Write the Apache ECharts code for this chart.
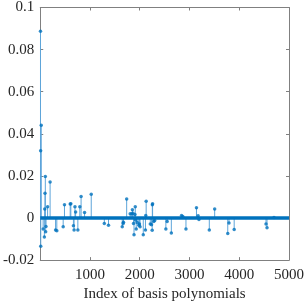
<!DOCTYPE html>
<html><head><meta charset="utf-8">
<script src="https://cdn.jsdelivr.net/npm/echarts@6/dist/echarts.min.js"></script>
<style>html,body{margin:0;padding:0;background:#fff}#c{width:307px;height:307px}</style>
</head><body><div id="c"></div>
<script>
var xLabel = 'Index of basis polynomials';
var xTicks = [0, 1000, 2000, 3000, 4000, 5000];
var yTicks = [-0.02, 0, 0.02, 0.04, 0.06, 0.08, 0.1];
var indices = [5,20,8,10,102,96,90,148,198,58,83,109,115,308,333,461,487,602,615,667,680,698,711,756,795,821,891,1025,1288,1372,1648,1667,1673,1737,1808,1840,1852,1865,1875,1885,1904,1910,1915,1929,1948,1981,1994,2006,2071,2121,2129,2115,2212,2237,2250,2253,2258,2282,2300,2525,2551,2635,2840,2866,2929,3140,3173,3190,3398,3506,3769,3794,3898,4538,4558,4698];
var coeffs = [0.0887,0.0441,0.0319,-0.0134,0.0197,0.0117,0.0043,0.0053,0.0171,-0.0052,-0.009,-0.0065,-0.004,-0.0057,-0.0061,-0.0042,0.0063,0.0066,0.0068,-0.0037,-0.0057,0.0054,0.0028,-0.0057,0.0054,0.0102,0.0026,0.0113,-0.0026,-0.0034,-0.0042,-0.0026,-0.002,0.009,0.002,0.002,0.0039,0.0023,-0.0026,-0.008,0.0017,0.0053,-0.001,-0.0052,-0.0021,-0.0035,-0.0029,-0.0042,-0.008,0.0012,0.0079,-0.0057,-0.0029,-0.0032,-0.0058,0.0063,0.0068,-0.0017,-0.0012,-0.0052,-0.0017,-0.0071,0.0012,0.0007,-0.0052,0.0049,0.0011,-0.0007,-0.0057,0.0043,-0.0074,-0.0024,-0.0055,-0.0029,-0.0046,0.0002];

var pts = indices.map(function(x, i){ return [x, coeffs[i]]; });
var font = 'Liberation Serif, Times New Roman, serif';
var axisCol = '#808080';
var ch = echarts.init(document.getElementById('c'));
function fmt(v){ var s = (+v.toFixed(2)).toString(); return s; }
var xBase = {type:'value', min:xTicks[0], max:xTicks[xTicks.length-1], interval:1000,
  axisLine:{show:true, onZero:false, lineStyle:{color:axisCol, width:1}},
  axisTick:{show:true, inside:true, length:3, lineStyle:{color:axisCol}},
  splitLine:{show:false}};
var yBase = {type:'value', min:yTicks[0], max:yTicks[yTicks.length-1], interval:0.02,
  axisLine:{show:true, onZero:false, lineStyle:{color:axisCol, width:1}},
  axisTick:{show:true, inside:true, length:3, lineStyle:{color:axisCol}},
  splitLine:{show:false}};
ch.setOption({
  animation:false,
  grid:{left:33, right:14, top:7, bottom:40, containLabel:false},
  xAxis:[
    Object.assign({}, xBase, {position:'bottom', name:xLabel, nameLocation:'middle', nameGap:21,
      nameTextStyle:{fontFamily:font, fontSize:15, color:'#262626'},
      axisLabel:{show:true, margin:7, fontFamily:font, fontSize:15, color:'#262626', formatter:function(v){return v === 0 ? '' : String(v);}}}),
    Object.assign({}, xBase, {position:'top', axisLabel:{show:false}})
  ],
  yAxis:[
    Object.assign({}, yBase, {position:'left',
      axisLabel:{show:true, margin:6, fontFamily:font, fontSize:15, color:'#262626', formatter:fmt}}),
    Object.assign({}, yBase, {position:'right', axisLabel:{show:false}})
  ],
  series:[
    {type:'custom', xAxisIndex:0, yAxisIndex:0, data:pts, z:2,
      renderItem:function(params, api){
        var p1 = api.coord([api.value(0), 0]);
        var p2 = api.coord([api.value(0), api.value(1)]);
        return {type:'line', shape:{x1:p1[0], y1:p1[1], x2:p2[0], y2:p2[1]},
          style:{stroke:'#5ea5da', lineWidth:1}};
      }},
    {type:'scatter', xAxisIndex:0, yAxisIndex:0, data:pts, symbol:'circle', symbolSize:3.5, z:3,
      itemStyle:{color:'#0072BD'},
      markLine:{silent:true, symbol:['none','none'], label:{show:false},
        lineStyle:{color:'#0072BD', width:3.5, type:'solid'},
        data:[{yAxis:0}]}}
  ]
});
</script></body></html>
